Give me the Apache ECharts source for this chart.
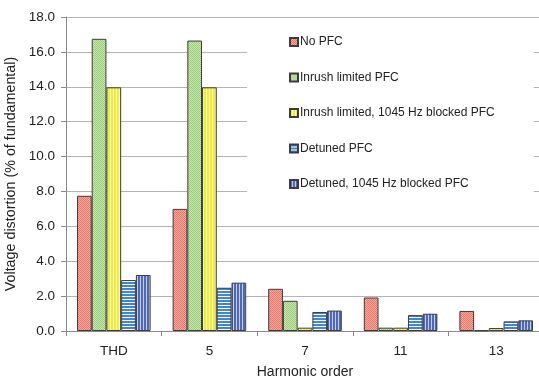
<!DOCTYPE html>
<html><head><meta charset="utf-8">
<script src="https://cdn.jsdelivr.net/npm/echarts@6/dist/echarts.min.js"></script>
<style>html,body{margin:0;padding:0;background:#fff}#c{width:539px;height:380px}</style>
</head><body><div id="c"></div>
<script>
var categories = ['THD', '5', '7', '11', '13'];
var seriesNames = ['No PFC', 'Inrush limited PFC', 'Inrush limited, 1045 Hz blocked PFC', 'Detuned PFC', 'Detuned, 1045 Hz blocked PFC'];
var noPfc = [7.75, 7.0, 2.42, 1.92, 1.15];
var inrushLimited = [16.75, 16.65, 1.73, 0.19, 0.04];
var inrushBlocked = [13.97, 13.97, 0.19, 0.19, 0.17];
var detuned = [2.92, 2.48, 1.09, 0.91, 0.55];
var detunedBlocked = [3.21, 2.77, 1.17, 0.99, 0.61];
var yTicks = [0, 2, 4, 6, 8, 10, 12, 14, 16, 18];

function pattern(w, h, draw) {
  var c = document.createElement('canvas');
  c.width = w; c.height = h;
  var g = c.getContext('2d');
  draw(g);
  return { image: c, repeat: 'repeat' };
}
var pRed = pattern(2, 2, function (g) {
  g.fillStyle = '#f5aaa2'; g.fillRect(0, 0, 2, 2);
  g.fillStyle = '#ea7468'; g.fillRect(0, 0, 1, 1); g.fillRect(1, 1, 1, 1);
});
var pGreen = pattern(2, 2, function (g) {
  g.fillStyle = '#cbe8b3'; g.fillRect(0, 0, 2, 2);
  g.fillStyle = '#98cc78'; g.fillRect(0, 0, 1, 1); g.fillRect(1, 1, 1, 1);
});
var pYellow = pattern(3, 1, function (g) {
  g.fillStyle = '#fbfab8'; g.fillRect(0, 0, 3, 1);
  g.fillStyle = '#eeea40'; g.fillRect(0, 0, 2, 1);
});
var pBlue = pattern(1, 3, function (g) {
  g.fillStyle = '#ffffff'; g.fillRect(0, 0, 1, 3);
  g.fillStyle = '#3f86d6'; g.fillRect(0, 0, 1, 2);
});
var pDark = pattern(3, 1, function (g) {
  g.fillStyle = '#c4cdee'; g.fillRect(0, 0, 3, 1);
  g.fillStyle = '#5068b8'; g.fillRect(0, 0, 2, 1);
});
var fills = [pRed, pGreen, pYellow, pBlue, pDark];
var datas = [noPfc, inrushLimited, inrushBlocked, detuned, detunedBlocked];

var font = 'Liberation Sans, Arial, sans-serif';
var chart = echarts.init(document.getElementById('c'), null, { renderer: 'canvas' });
chart.setOption({
  animation: false,
  backgroundColor: '#ffffff',
  textStyle: { fontFamily: font },
  grid: { left: 66, top: 17, bottom: 49, width: 478, containLabel: false, outerBoundsMode: 'none' },
  legend: {
    orient: 'vertical',
    left: 247, top: 21,
    padding: [14, 39, 14, 42],
    backgroundColor: '#ffffff',
    itemWidth: 8, itemHeight: 8, itemGap: 21.5,
    icon: 'rect',
    data: seriesNames,
    textStyle: { fontSize: 12, color: '#222', fontFamily: font, lineHeight: 14, padding: [0, 0, 0, -3] },
    z: 10
  },
  xAxis: {
    type: 'category', data: categories,
    axisLine: { lineStyle: { color: '#8a8a8a', width: 1 } },
    axisTick: { show: true, length: 5, lineStyle: { color: '#8a8a8a' } },
    axisLabel: { fontSize: 13.5, color: '#222', margin: 13, fontFamily: font },
    name: 'Harmonic order', nameLocation: 'middle', nameGap: 34,
    nameTextStyle: { fontSize: 14, color: '#222', fontFamily: font }
  },
  yAxis: {
    type: 'value', min: yTicks[0], max: yTicks[yTicks.length - 1], interval: 2,
    axisLine: { show: true, lineStyle: { color: '#8a8a8a', width: 1 } },
    axisTick: { show: true, length: 5, lineStyle: { color: '#8a8a8a' } },
    axisLabel: { fontSize: 13.5, color: '#222', margin: 11, fontFamily: font,
      formatter: function (v) { return v.toFixed(1); } },
    splitLine: { lineStyle: { color: '#b4b4b4', width: 1 } },
    name: 'Voltage distortion (% of fundamental)', nameLocation: 'middle', nameGap: 42,
    nameTextStyle: { fontSize: 14.3, color: '#222', fontFamily: font }
  },
  series: seriesNames.map(function (n, i) {
    return {
      name: n, type: 'bar', data: datas[i],
      barGap: '0%', barCategoryGap: '23%',
      itemStyle: { color: fills[i], borderColor: '#3c3c3c', borderWidth: 1 }
    };
  })
});
</script></body></html>
